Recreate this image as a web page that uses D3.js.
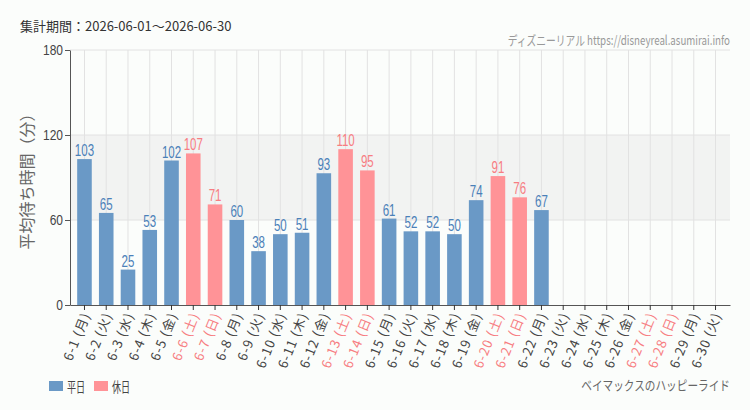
<!DOCTYPE html>
<html>
<head>
<meta charset="utf-8">
<script src="https://cdn.jsdelivr.net/npm/d3@7"></script>
<style>
  body { margin: 0; background: #fbfdfb; }
  svg { display: block; font-family: "Noto Sans CJK JP", "Noto Sans", sans-serif; }
</style>
</head>
<body>
<svg id="chart" width="750" height="410"></svg>
<script>
var days = ["6-1","6-2","6-3","6-4","6-5","6-6","6-7","6-8","6-9","6-10","6-11","6-12","6-13","6-14","6-15",
            "6-16","6-17","6-18","6-19","6-20","6-21","6-22","6-23","6-24","6-25","6-26","6-27","6-28","6-29","6-30"];
var weekdays = ["月","火","水","木","金","土","日"];
var waits = [103,65,25,53,102,107,71,60,38,50,51,93,110,95,61,52,52,50,74,91,76,67,
             null,null,null,null,null,null,null,null];
var holidays = ["6-6","6-7","6-13","6-14","6-20","6-21","6-27","6-28"];
var yTicks = [0,60,120,180];

var colors = { weekday: "#6a99c6", holiday: "#ff9397" };
var labelColors = { weekday: "#4a80b8", holiday: "#f77d82" };
var narrow = "'Liberation Sans', Arial, sans-serif";

var svg = d3.select("#chart");
var margin = { top: 50, right: 20, bottom: 105, left: 70 };
var w = 750, h = 410;

var x = d3.scaleBand()
  .domain(days)
  .range([margin.left, w - margin.right])
  .padding(0.33);
var y = d3.scaleLinear()
  .domain([0, 180])
  .range([h - margin.bottom, margin.top]);

var data = days.map(function(d, i) {
  return { day: d, label: d + " (" + weekdays[i % 7] + ")", value: waits[i], holiday: holidays.indexOf(d) >= 0 };
});

// shaded band 60-120
svg.append("rect")
  .attr("x", margin.left).attr("width", w - margin.right - margin.left)
  .attr("y", y(120)).attr("height", y(60) - y(120))
  .attr("fill", "#f2f3f2");

// grid
svg.append("g")
  .selectAll("line")
  .data(days)
  .enter()
  .append("line")
  .attr("x1", d => x(d) + x.bandwidth() / 2)
  .attr("x2", d => x(d) + x.bandwidth() / 2)
  .attr("y1", y(180)).attr("y2", y(0))
  .attr("stroke", "#e2e2e2");
svg.append("g")
  .selectAll("line")
  .data(yTicks.slice(1))
  .enter()
  .append("line")
  .attr("x1", margin.left).attr("x2", w - margin.right)
  .attr("y1", d => y(d)).attr("y2", d => y(d))
  .attr("stroke", "#e2e2e2");

// bars
var withVals = data.filter(d => d.value != null);
svg.append("g")
  .selectAll("rect")
  .data(withVals)
  .enter()
  .append("rect")
  .attr("x", d => x(d.day))
  .attr("width", x.bandwidth())
  .attr("y", d => y(d.value))
  .attr("height", d => y(0) - y(d.value))
  .attr("fill", d => d.holiday ? colors.holiday : colors.weekday);

// value labels (condensed look)
svg.append("g")
  .selectAll("text")
  .data(withVals)
  .enter()
  .append("text")
  .attr("transform", d => "translate(" + (x(d.day) + x.bandwidth() / 2) + "," + (y(d.value) - 3) + ") scale(0.72,1)")
  .attr("text-anchor", "middle")
  .style("font-family", narrow)
  .style("font-size", "16px")
  .attr("fill", d => d.holiday ? labelColors.holiday : labelColors.weekday)
  .text(d => d.value);

// axes
var yAxis = svg.append("g")
  .attr("transform", "translate(" + margin.left + ",0)")
  .call(d3.axisLeft(y).tickValues(yTicks).tickSize(5).tickSizeOuter(0).tickPadding(0));
yAxis.select(".domain").attr("stroke", "#555");
yAxis.selectAll(".tick line").attr("stroke", "#555");
yAxis.selectAll("text")
  .attr("x", null)
  .attr("transform", "translate(-7,0) scale(0.8,1)")
  .style("font-family", narrow)
  .style("font-size", "15px").attr("fill", "#444");

var xAxis = svg.append("g")
  .attr("transform", "translate(0," + y(0) + ")")
  .call(d3.axisBottom(x).tickSize(5).tickSizeOuter(0).tickFormat(function(d, i) { return data[i].label; }));
xAxis.select(".domain").attr("stroke", "#555");
xAxis.selectAll(".tick line").attr("stroke", "#333");
xAxis.selectAll("text")
  .style("font-family", "'Noto Sans CJK JP', sans-serif")
  .style("font-size", "13px")
  .style("letter-spacing", "1px")
  .attr("text-anchor", "end")
  .attr("transform", "translate(2,8) rotate(-68)")
  .attr("dy", "0.35em").attr("y", 0).attr("x", 0)
  .attr("fill", (d, i) => data[i].holiday ? labelColors.holiday : "#444");

// y axis title
svg.append("text")
  .attr("transform", "translate(33," + ((y(0) + y(180)) / 2) + ") rotate(-90)")
  .attr("text-anchor", "middle")
  .style("font-size", "16px")
  .attr("fill", "#666")
  .text("平均待ち時間（分）");

// headers
svg.append("text")
  .attr("x", 20).attr("y", 31)
  .style("font-size", "13px")
  .attr("fill", "#333")
  .text("集計期間：2026-06-01～2026-06-30");
svg.append("text")
  .attr("transform", "translate(730,45) scale(0.75,1)")
  .attr("text-anchor", "end")
  .style("font-size", "13px")
  .attr("fill", "#999")
  .text("ディズニーリアル https://disneyreal.asumirai.info");
svg.append("text")
  .attr("transform", "translate(730,390) scale(0.82,1)")
  .attr("text-anchor", "end")
  .style("font-size", "13px")
  .attr("fill", "#666")
  .text("ベイマックスのハッピーライド");

// legend
var legend = [{ name: "平日", color: colors.weekday }, { name: "休日", color: colors.holiday }];
var lg = svg.append("g").selectAll("g")
  .data(legend)
  .enter()
  .append("g")
  .attr("transform", (d, i) => "translate(" + (49 + i * 45) + ",381)");
lg.append("rect").attr("width", 14).attr("height", 10).attr("fill", d => d.color);
lg.append("text").attr("transform", "translate(18,11) scale(0.65,1)")
  .style("font-size", "14px").attr("fill", "#444").text(d => d.name);
</script>
</body>
</html>
